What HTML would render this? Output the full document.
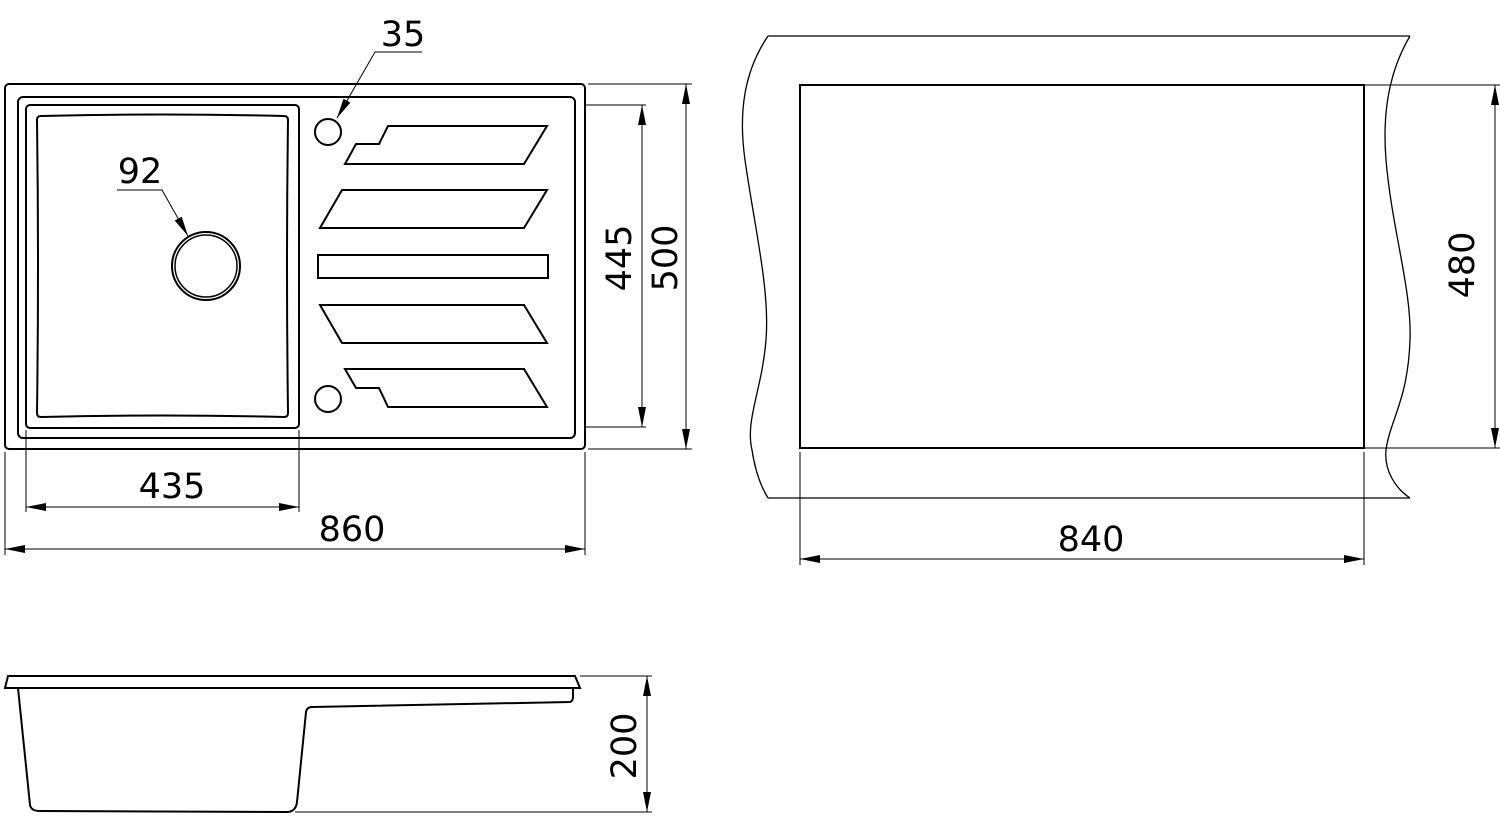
<!DOCTYPE html>
<html><head><meta charset="utf-8"><style>
html,body{margin:0;padding:0;background:#fff}
svg{display:block}
text{font-family:"DejaVu Sans","Liberation Sans",sans-serif;font-size:35px;fill:#000}
</style></head><body>
<svg width="1500" height="825" viewBox="0 0 1500 825" xmlns="http://www.w3.org/2000/svg">
<defs>
<marker id="a" viewBox="0 0 20 8" refX="20" refY="4" markerWidth="20" markerHeight="8" markerUnits="userSpaceOnUse" orient="auto-start-reverse"><path d="M0,0 L20,4 L0,8 z" fill="#000"/></marker>
</defs>
<g fill="none" stroke="#000" stroke-width="2">
<!-- plan view -->
<rect x="5" y="84" width="580" height="365" rx="4"/>
<rect x="18" y="97" width="557" height="341" rx="5"/>
<rect x="26" y="105" width="273" height="323" rx="4"/>
<path d="M41,116 Q162,113 284,116 Q288,116 288,120 Q286,266 288,413 Q288,417 284,417 Q162,414 41,417 Q37,417 37,413 Q39,266 37,120 Q37,116 41,116 z"/>
<circle cx="206" cy="266" r="34"/>
<circle cx="206" cy="266" r="31" stroke-width="1.5"/>
<circle cx="328" cy="132" r="13"/>
<circle cx="328" cy="399" r="13"/>
<path d="M388,126 L547,126 L524,164 L345,164 L356,144 L379,144 z"/>
<path d="M342,190 L547,190 L524,228 L320,228 z"/>
<rect x="318" y="255" width="230" height="23"/>
<path d="M320,305 L524,305 L547,343 L342,343 z"/>
<path d="M345,369 L524,369 L547,407 L388,407 L379,388 L356,388 z"/>
<!-- side view -->
<path d="M8,676 L575,676 L580,688 L5,688 z"/>
<path d="M18,688 L30,805 Q31,811 40,811 L288,812 Q296,811 297,802 L306,712 Q307,707 312,707 L570,702 Q573,701 573,697 L573,688"/>
<!-- cutout view -->
<rect x="800" y="85" width="564" height="363"/>
</g>
<g fill="none" stroke="#000" stroke-width="1.3">
<path d="M768,36 L1410,36"/>
<path d="M768,498 L1410,498"/>
<path d="M768,36 C745,70 738,110 745,160 C755,230 770,290 766,340 C762,390 745,420 752,450 C755,470 760,485 768,498"/>
<path d="M1410,36 C1390,70 1382,110 1386,160 C1392,230 1412,290 1410,340 C1408,400 1390,420 1386,450 C1384,470 1395,488 1410,498"/>
</g>
<g fill="none" stroke="#000" stroke-width="1">
<!-- plan dims -->
<path d="M26,430 V512 M299,430 V512 M5,452 V555 M585,452 V555"/>
<path d="M26,507 H299" marker-start="url(#a)" marker-end="url(#a)"/>
<path d="M5,549 H585" marker-start="url(#a)" marker-end="url(#a)"/>
<path d="M585,105 H646 M585,427 H646 M588,84 H692 M588,449 H692"/>
<path d="M642,105 V427" marker-start="url(#a)" marker-end="url(#a)"/>
<path d="M686,84 V449" marker-start="url(#a)" marker-end="url(#a)"/>
<path d="M117,190 H162 L188,236" marker-end="url(#a)"/>
<path d="M422,52 H375 L337,118" marker-end="url(#a)"/>
<!-- side dim -->
<path d="M580,676 H652 M295,812 H652"/>
<path d="M647,676 V812" marker-start="url(#a)" marker-end="url(#a)"/>
<!-- cutout dims -->
<path d="M1364,85 H1500 M1364,448 H1500"/>
<path d="M1495,85 V448" marker-start="url(#a)" marker-end="url(#a)"/>
<path d="M800,452 V565 M1364,452 V565"/>
<path d="M800,559 H1364" marker-start="url(#a)" marker-end="url(#a)"/>
</g>
<text x="403" y="46" text-anchor="middle">35</text>
<text x="140" y="183" text-anchor="middle">92</text>
<text x="172" y="498" text-anchor="middle">435</text>
<text x="352" y="541" text-anchor="middle">860</text>
<text x="1091" y="551" text-anchor="middle">840</text>
<text transform="translate(631,258) rotate(-90)" text-anchor="middle">445</text>
<text transform="translate(677,258) rotate(-90)" text-anchor="middle">500</text>
<text transform="translate(1474,265) rotate(-90)" text-anchor="middle">480</text>
<text transform="translate(636,746) rotate(-90)" text-anchor="middle">200</text>
</svg>
</body></html>
